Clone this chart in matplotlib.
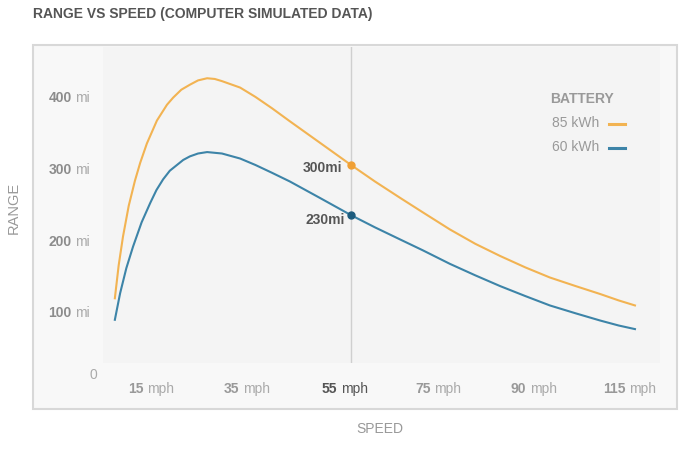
import matplotlib.pyplot as plt
from matplotlib.patches import Rectangle
from matplotlib.lines import Line2D

plt.rcParams['font.family'] = ['Liberation Sans', 'DejaVu Sans']

# data
speed_85 = [5.6, 6.4, 7.3, 8.5, 9.8, 10.9, 12.3, 14.4, 16.5, 17.8, 19.5, 21.3, 23.0,
            24.9, 26.5, 28.0, 31.8, 35.0, 38.5, 42.2, 48.5, 55, 60.0, 65.3, 70.0, 75.7,
            81.0, 86.2, 91.5, 96.6, 102.0, 107.1, 111.0, 114.4]
range_85 = [114, 160, 200, 243, 278, 303, 330, 362, 384, 394, 405, 412, 418,
            421, 420, 417, 408, 395, 379, 361, 331, 300, 277, 254, 234, 210,
            190, 173, 157, 143, 131, 120, 111, 104]

speed_60 = [5.6, 6.7, 8.0, 9.4, 11.2, 13.0, 14.3, 15.7, 17.1, 19.9, 21.3, 23.0,
            24.9, 28.0, 31.8, 35.0, 38.5, 42.2, 48.5, 55, 60.0, 65.3, 70.0, 75.7,
            81.0, 86.2, 91.5, 96.6, 102.0, 107.1, 111.0, 114.4]
range_60 = [84, 121, 156, 186, 220, 247, 265, 280, 292, 307, 312, 316,
            318, 316, 309, 300, 289, 277, 254, 230, 213, 196, 181, 162,
            146, 131, 117, 104, 93, 83, 76, 71]

battery_labels = ['85 kWh', '60 kWh']
highlight_speed = 55
highlight_ranges = [300, 230]

x_ticks = [15, 35, 55, 75, 95, 115]
x_tick_nums = ['15', '35', '55', '75', '90', '115']
y_ticks = [100, 200, 300, 400]

orange = '#F2B352'
blue = '#3D84A8'
dot_colors = ['#F0A035', '#1D5C7E']

W, H = 700, 449


def fx(px):
    return px / W


def fy(py):
    return 1 - py / H


fig = plt.figure(figsize=(7, 4.49), dpi=100)
fig.patch.set_facecolor('white')

# outer panel (behind the axes)
fig.patches.append(Rectangle((fx(33), fy(409)), (677 - 33) / W, (409 - 45) / H,
                             transform=fig.transFigure, facecolor='#f8f8f8',
                             edgecolor='#d8d8d8', lw=1.5, zorder=-5))

ax = fig.add_axes([fx(103), fy(363), (660 - 103) / W, (363 - 47) / H])
ax.set_facecolor('#f4f4f4')
for s in ax.spines.values():
    s.set_visible(False)
ax.set_xlim(3.12, 119.64)
ax.set_ylim(23.7, 464.6)
ax.set_xticks([])
ax.set_yticks([])

ax.axvline(highlight_speed, color='#cfcfcf', lw=1, zorder=1)

ax.plot(speed_85, range_85, color=orange, lw=1.5, zorder=2)
ax.plot(speed_60, range_60, color=blue, lw=1.5, zorder=2)

# highlighted points at 55 mph
offsets = [(-9, -3), (-6, -5)]
for r, c, off in zip(highlight_ranges, dot_colors, offsets):
    ax.plot(highlight_speed, r, 'o', color=c, ms=5, zorder=3)
    ax.annotate('%dmi' % r, (highlight_speed, r), xytext=off, textcoords='offset pixels',
                ha='right', va='center', fontsize=10, fontweight='bold', color='#555555')

# x tick labels (bold number + light unit)
for sp, num in zip(x_ticks, x_tick_nums):
    dark = sp == highlight_speed
    off = -8 + (7.7 * len(num) - 30.9) / 2
    if dark:
        off += 2
    t = ax.annotate(num, xy=(sp, 0), xycoords=ax.get_xaxis_transform(),
                    xytext=(off, -26), textcoords='offset pixels', ha='right', va='center',
                    fontsize=10, fontweight='bold', color='#555555' if dark else '#999999',
                    annotation_clip=False)
    ax.annotate('mph', xy=(1, 0.5), xycoords=t, xytext=(3.5, 0), textcoords='offset pixels',
                ha='left', va='center', fontsize=10,
                color='#555555' if dark else '#aaaaaa', annotation_clip=False)

# y tick labels
for v in y_ticks:
    u = ax.annotate('mi', xy=(0, v), xycoords=ax.get_yaxis_transform(),
                    xytext=(-13, -5), textcoords='offset pixels', ha='right', va='center',
                    fontsize=10, color='#aaaaaa', annotation_clip=False)
    ax.annotate(str(v), xy=(0, 0.5), xycoords=u, xytext=(-3.5, 0), textcoords='offset pixels',
                ha='right', va='center', fontsize=10, fontweight='bold', color='#8c8c8c',
                annotation_clip=False)
ax.annotate('0', xy=(0, 0), xycoords='axes fraction', xytext=(-6, -12),
            textcoords='offset pixels', ha='right', va='center', fontsize=10,
            color='#aaaaaa', annotation_clip=False)

# titles
fig.text(fx(33), fy(14), 'RANGE VS SPEED (COMPUTER SIMULATED DATA)', fontsize=10,
         fontweight='bold', color='#555555', va='center', ha='left')
fig.text(fx(14), fy(208), 'RANGE', rotation=90, ha='center', va='center',
         fontsize=10.5, color='#999999')
fig.text(fx(380), fy(429), 'SPEED', ha='center', va='center', fontsize=10, color='#999999')

# legend
fig.text(fx(550), fy(99), 'BATTERY', fontsize=10, fontweight='bold', color='#999999',
         va='center', ha='left')
for i, (lab, c) in enumerate(zip(battery_labels, [orange, blue])):
    y = 123 + 24 * i
    fig.text(fx(552), fy(y), lab, fontsize=10, color='#999999', va='center', ha='left')
    fig.add_artist(Line2D([fx(609), fx(625)], [fy(y + 1), fy(y + 1)],
                          transform=fig.transFigure, color=c, lw=2.2))

fig.savefig('out.png', dpi=100)
